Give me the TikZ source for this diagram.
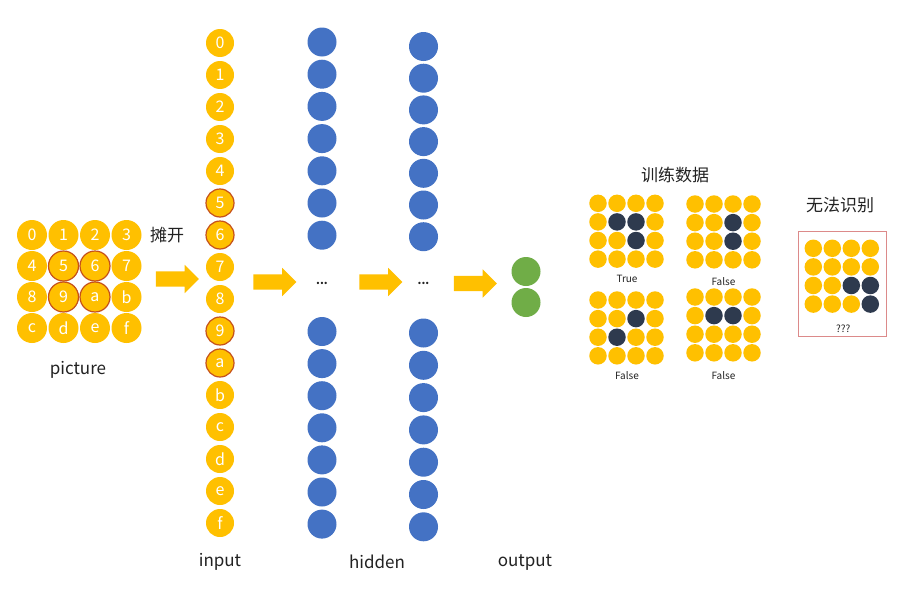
\documentclass[tikz,border=0pt]{standalone}
\usepackage{fontspec}
\setmainfont{Noto Sans CJK SC}
\usetikzlibrary{shapes.arrows}

\definecolor{gold}{HTML}{FFC000}
\definecolor{hotred}{HTML}{C5501A}
\definecolor{netblue}{HTML}{4472C4}
\definecolor{outgreen}{HTML}{70AD47}
\definecolor{slate}{HTML}{2E3A4E}
\definecolor{boxred}{HTML}{DC8A8A}
\definecolor{ink}{HTML}{222222}

% one 4x4 sample: name, top-left centre, 16 flags (1 = dark)
\newcommand{\cellgrid}[4]{%
  \foreach \i in {0,...,15}{
    \pgfmathtruncatemacro{\gr}{\i/4}
    \pgfmathtruncatemacro{\gc}{mod(\i,4)}
    \pgfmathtruncatemacro{\gd}{{#4}[\i]}
    \ifnum\gd=1 \def\cellstyle{dark}\else\def\cellstyle{cell}\fi
    \node[\cellstyle] (#1\i) at ({#2+19*\gc},{#3+18.6*\gr}) {};
  }}

\begin{document}
\begin{tikzpicture}[x=1pt, y=-1pt,
    px/.style={circle, fill=gold, minimum size=30pt, inner sep=0pt, text=white, font=\fontsize{16}{16}\selectfont},
    hot/.style={px, draw=hotred, line width=1.2pt},
    hid/.style={circle, fill=netblue, minimum size=29pt, inner sep=0pt},
    outc/.style={circle, fill=outgreen, minimum size=29pt, inner sep=0pt},
    cell/.style={circle, fill=gold, minimum size=17.5pt, inner sep=0pt},
    dark/.style={circle, fill=slate, minimum size=17.5pt, inner sep=0pt},
    blockarrow/.style={single arrow, fill=gold, minimum height=43pt, minimum width=0pt, inner xsep=0pt, inner ysep=7.5pt, single arrow head extend=6.5pt},
    lbl/.style={text=ink, font=\fontsize{17}{20}\selectfont},
    tag/.style={text=ink, font=\fontsize{10}{12}\selectfont}
  ]
  \useasboundingbox[fill=white] (0,0) rectangle (910,605);

  % --- picture grid ---
  \foreach \c/\s [count=\i from 0, evaluate=\i as \pr using {int(\i/4)}, evaluate=\i as \pc using {int(mod(\i,4))}] in
    {0/px,1/px,2/px,3/px,4/px,5/hot,6/hot,7/px,8/px,9/hot,a/hot,b/px,c/px,d/px,e/px,f/px}
    \node[\s] (p\c) at ({32+31.5*\pc},{235+31*\pr}) {\c};
  \node[lbl] (piclbl) at (78,370) {picture};
  \node[lbl] (flat) at (167,235) {摊开};

  % --- input column ---
  \foreach \c/\s [count=\i from 0] in
    {0/px,1/px,2/px,3/px,4/px,5/hot,6/hot,7/px,8/px,9/hot,a/hot,b/px,c/px,d/px,e/px,f/px}
    \node[\s, minimum size=28pt] (in\c) at (220,{43+32*\i}) {\c};

  % --- hidden columns ---
  \foreach \j in {0,...,6}{
    \node[hid] (ha\j) at (322,{42+32.2*\j}) {};
    \node[hid] (hb\j) at (322,{331.5+32.1*\j}) {};
    \node[hid] (hc\j) at (423.5,{46.5+31.7*\j}) {};
    \node[hid] (hd\j) at (423.5,{333+32.3*\j}) {};
  }
  \node[text=ink, font=\bfseries\fontsize{11}{11}\selectfont] (dots1) at (322,283) {...};
  \node[text=ink, font=\bfseries\fontsize{11}{11}\selectfont] (dots2) at (423.5,283) {...};

  % --- output ---
  \node[outc] (o1) at (526,271.5) {};
  \node[outc] (o2) at (526,302.5) {};

  % --- arrows between stages ---
  \node[blockarrow] (ar1) at (173.5,279) {};
  \node[blockarrow] (ar2) at (271,282) {};
  \node[blockarrow] (ar3) at (377,282) {};
  \node[blockarrow] (ar4) at (471.5,283.5) {};

  \node[lbl] (inlbl) at (220,562) {input};
  \node[lbl] (hidlbl) at (377,562) {hidden};
  \node[lbl] (outlbl) at (525,563) {output};

  % --- training samples ---
  \node[lbl] (train) at (675,175) {训练数据};
  \cellgrid{ta}{598}{203.3}{0,0,0,0,0,1,1,0,0,0,1,0,0,0,0,0}
  \cellgrid{tb}{695}{204}{0,0,0,0,0,0,1,0,0,0,1,0,0,0,0,0}
  \cellgrid{tc}{598}{300}{0,0,0,0,0,0,1,0,0,1,0,0,0,0,0,0}
  \cellgrid{td}{695}{297}{0,0,0,0,0,1,1,0,0,0,0,0,0,0,0,0}
  \node[tag] (tatag) at (627,279) {True};
  \node[tag] (tbtag) at (723.5,282) {False};
  \node[tag] (tctag) at (627,375.5) {False};
  \node[tag] (tdtag) at (723.5,375.5) {False};

  % --- unknown sample ---
  \node[lbl] (nope) at (840,205) {无法识别};
  \node[draw=boxred, line width=1pt, minimum width=87.7pt, minimum height=105pt, inner sep=0pt] (unk) at (842.2,284.2) {};
  \cellgrid{ux}{813.3}{248.3}{0,0,0,0,0,0,0,0,0,0,1,1,0,0,0,1}
  \node[tag] (uxtag) at (843.3,329) {???};
\end{tikzpicture}
\end{document}
